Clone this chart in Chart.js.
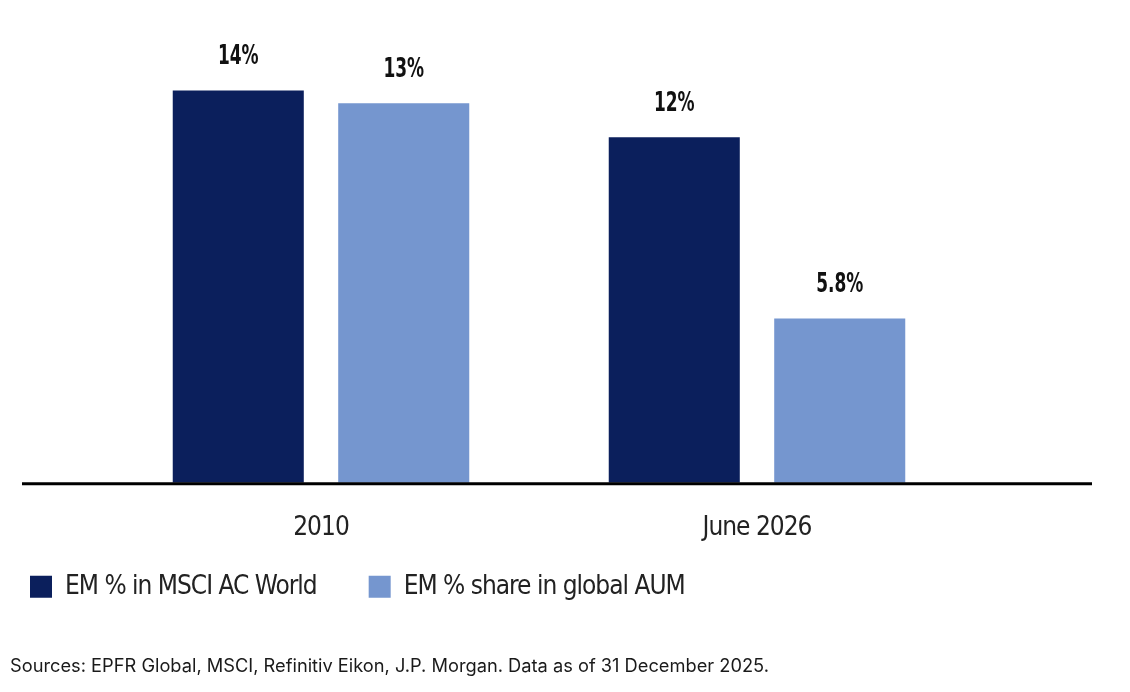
<!DOCTYPE html>
<html><head><meta charset="utf-8">
<script src="https://cdn.jsdelivr.net/npm/chart.js@4.4.1/dist/chart.umd.min.js"></script>
<style>
html,body{margin:0;padding:0;background:#fff;width:1130px;height:692px;overflow:hidden;}
#wrap{position:absolute;left:0;top:0;width:1130px;height:692px;}
#src{position:absolute;left:10px;top:654px;font-family:Inter,"Noto Sans",sans-serif;font-size:18.25px;color:#1a1a1a;white-space:nowrap;}
</style></head>
<body>
<div id="wrap"><canvas id="c"></canvas></div>
<div id="src">Sources: EPFR Global, MSCI, Refinitiv Eikon, J.P. Morgan. Data as of 31 December 2025.</div>
<script>
const categories = ["2010", "June 2026"];
const seriesNames = ["EM % in MSCI AC World", "EM % share in global AUM"];
const msciValues = [13.85, 12.2];
const aumValues = [13.4, 5.8];
const msciLabels = ["14%", "12%"];
const aumLabels = ["13%", "5.8%"];

const NARROW = '"DejaVu Sans Condensed","DejaVu Sans",sans-serif';

const tightText = {
  id: 'tightText',
  beforeUpdate(chart) { chart.ctx.letterSpacing = '-1px'; },
  beforeLayout(chart) { chart.ctx.letterSpacing = '-1px'; },
  beforeDraw(chart) { chart.ctx.letterSpacing = '-1px'; },
  afterLayout(chart) {
    const lg = chart.legend;
    if (!lg) return;
    const want = chart.chartArea.bottom + 39;
    const d = lg.top - want;
    lg.top -= d; lg.bottom -= d;
  }
};

const valueLabels = {
  id: 'valueLabels',
  afterDatasetsDraw(chart) {
    const ctx = chart.ctx;
    const lbls = [msciLabels, aumLabels];
    ctx.save();
    ctx.letterSpacing = '0px';
    ctx.font = 'bold 27px ' + NARROW;
    ctx.fillStyle = '#111';
    ctx.textAlign = 'center';
    ctx.textBaseline = 'middle';
    chart.data.datasets.forEach((ds, di) => {
      chart.getDatasetMeta(di).data.forEach((bar, i) => {
        ctx.save();
        ctx.translate(bar.x, bar.y - 33);
        ctx.scale(0.7, 1);
        ctx.fillText(lbls[di][i], 0, 0);
        ctx.restore();
      });
    });
    ctx.restore();
  }
};
const baseline = {
  id: 'baseline',
  afterDatasetsDraw(chart) {
    const ctx = chart.ctx;
    const y = chart.scales.y.getPixelForValue(0);
    ctx.save();
    ctx.strokeStyle = '#000';
    ctx.lineWidth = 3;
    ctx.beginPath();
    ctx.moveTo(22, y + 1);
    ctx.lineTo(1092, y + 1);
    ctx.stroke();
    ctx.restore();
  }
};

new Chart(document.getElementById('c'), {
  type: 'bar',
  data: {
    labels: categories,
    datasets: [
      { label: seriesNames[0], data: msciValues, backgroundColor: '#0b1f5c' },
      { label: seriesNames[1], data: aumValues, backgroundColor: '#7596cf' }
    ]
  },
  options: {
    responsive: true,
    maintainAspectRatio: false,
    animation: false,
    categoryPercentage: 0.759,
    barPercentage: 0.792,
    layout: { padding: { left: -22, right: 155, top: 29.5, bottom: 30 } },
    scales: {
      x: {
        grid: { display: false, drawTicks: false },
        border: { display: false },
        ticks: { color: '#222', font: { family: NARROW, size: 26 }, padding: 30 }
      },
      y: {
        min: 0, max: 16,
        grid: { display: false, drawTicks: false },
        border: { display: false },
        ticks: { display: false },
        afterFit(s) { s.width = 125; }
      }
    },
    plugins: {
      tooltip: { enabled: false },
      legend: {
        position: 'bottom',
        align: 'start',
        labels: {
          boxWidth: 22, boxHeight: 22, padding: 52,
          color: '#222',
          font: { family: NARROW, size: 26 }
        }
      }
    }
  },
  plugins: [tightText, valueLabels, baseline]
});
</script>
</body></html>
